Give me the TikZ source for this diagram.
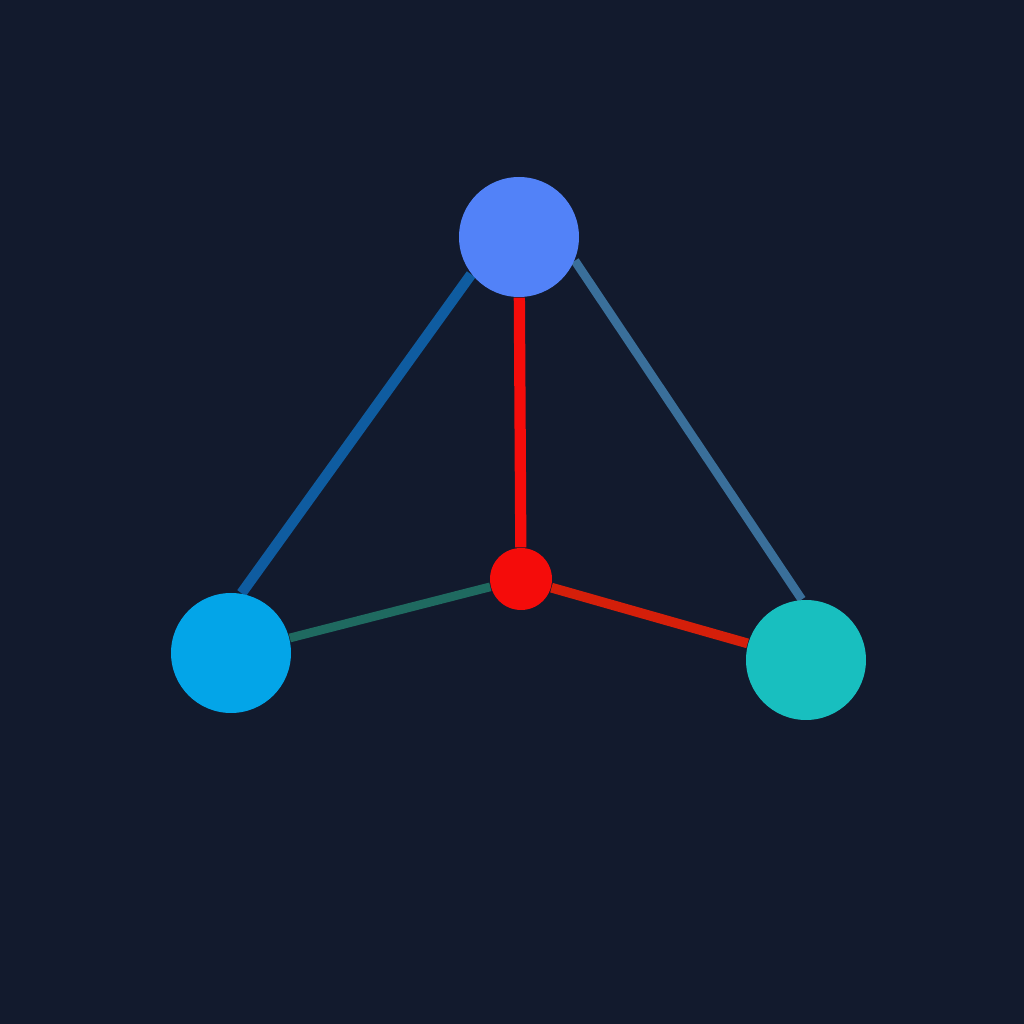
\documentclass[tikz,border=0pt]{standalone}
\usepackage{tikz}
\usetikzlibrary{positioning}
\pgfdeclarelayer{links}
\pgfsetlayers{links,main}
\definecolor{NightBg}{RGB}{18,26,45}
\definecolor{ApexBlue}{RGB}{82,130,248}
\definecolor{SkyBlue}{RGB}{3,165,232}
\definecolor{SoftTeal}{RGB}{24,191,191}
\definecolor{HubRed}{RGB}{245,12,10}
\definecolor{DeepBlue}{RGB}{15,92,160}
\definecolor{SteelBlue}{RGB}{58,111,154}
\definecolor{PineGreen}{RGB}{31,106,96}
\definecolor{RustRed}{RGB}{212,31,10}
\tikzset{
  ball/.style={circle,inner sep=0pt,minimum size=1.2cm},
  hubball/.style={circle,inner sep=0pt,minimum size=0.62cm,fill=HubRed},
  link/.style={line width=2.8pt}
}

\begin{document}
\begin{tikzpicture}
  \useasboundingbox (0,0) rectangle (10.24,10.24);
  % nodes
  \node[ball,fill=ApexBlue] (apex) at (5.19,7.87) {};
  \node[ball,fill=SkyBlue] (leftball) at (2.31,3.71) {};
  \node[ball,fill=SoftTeal] (rightball) at (8.06,3.64) {};
  \node[hubball] (hub) at (5.21,4.45) {};
  % links, under the balls
  \begin{pgfonlayer}{links}
    \fill[NightBg] (0,0) rectangle (10.24,10.24);
    \draw[link,DeepBlue,line width=3pt] (apex.218) -- (leftball.80);
    \draw[link,SteelBlue,line width=2.5pt] (apex.-23) -- (rightball.94);
    \draw[link,HubRed,line width=3.2pt] (apex) -- (hub);
    \draw[link,PineGreen,line width=2.5pt] (leftball) -- (hub);
    \draw[link,RustRed] (hub) -- (rightball);
  \end{pgfonlayer}
\end{tikzpicture}
\end{document}
